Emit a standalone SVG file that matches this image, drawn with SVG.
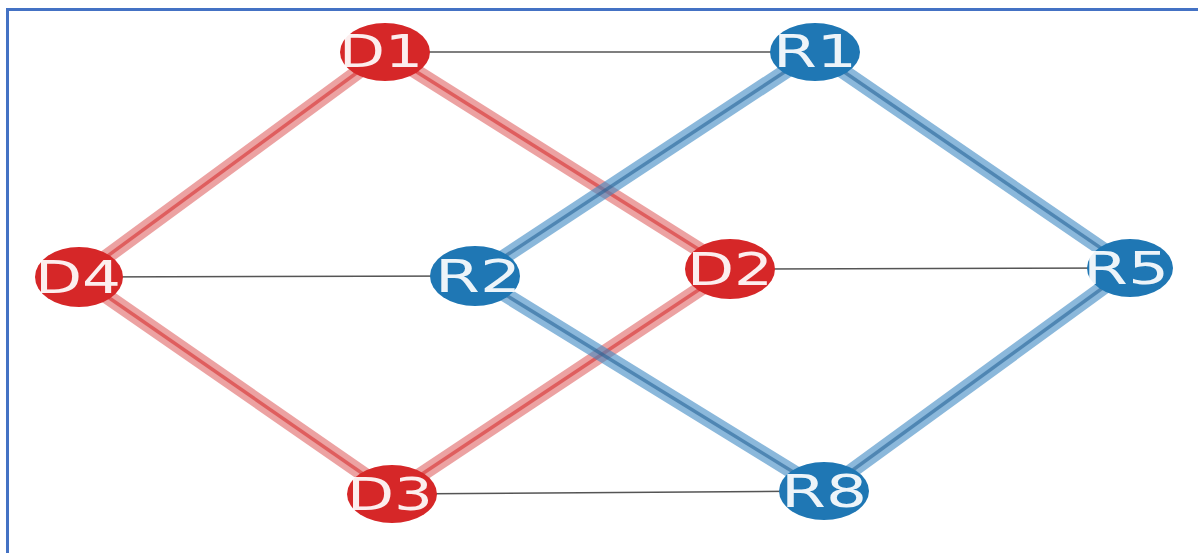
<svg xmlns="http://www.w3.org/2000/svg" width="1198" height="553" viewBox="0 0 1198 553">
<style>
.thin{stroke:#555;stroke-width:1.5;fill:none}
.ro{stroke:#e06666;stroke-width:15;opacity:0.6;stroke-linecap:round}
.ri{stroke:#d62728;stroke-width:3.5;opacity:0.55}
.bo{stroke:#3f8ac4;stroke-width:15;opacity:0.6;stroke-linecap:round}
.bi{stroke:#1f5f94;stroke-width:3.5;opacity:0.55}
.rn{fill:#d62728}
.bn{fill:#1f77b4}
.lb{font-family:"DejaVu Sans",sans-serif;font-size:45px;fill:#fff;fill-opacity:0.92;text-anchor:middle}
</style>
<rect x="0" y="0" width="1198" height="553" fill="#fff"/>
<path d="M7.5,553 V9.5 H1198" fill="none" stroke="#4472c4" stroke-width="3"/>
<g id="connectors">
<line class="thin" x1="385" y1="52" x2="815" y2="52"/>
<line class="thin" x1="79" y1="277" x2="475" y2="276"/>
<line class="thin" x1="730" y1="269" x2="1130" y2="268"/>
<line class="thin" x1="392" y1="494" x2="824" y2="491"/>
<line class="ro" x1="385" y1="52" x2="79" y2="277"/><line class="ri" x1="385" y1="52" x2="79" y2="277"/>
<line class="ro" x1="385" y1="52" x2="730" y2="269"/><line class="ri" x1="385" y1="52" x2="730" y2="269"/>
<line class="ro" x1="79" y1="277" x2="392" y2="494"/><line class="ri" x1="79" y1="277" x2="392" y2="494"/>
<line class="ro" x1="392" y1="494" x2="730" y2="269"/><line class="ri" x1="392" y1="494" x2="730" y2="269"/>
<line class="bo" x1="815" y1="52" x2="475" y2="276"/><line class="bi" x1="815" y1="52" x2="475" y2="276"/>
<line class="bo" x1="815" y1="52" x2="1130" y2="268"/><line class="bi" x1="815" y1="52" x2="1130" y2="268"/>
<line class="bo" x1="475" y1="276" x2="824" y2="491"/><line class="bi" x1="475" y1="276" x2="824" y2="491"/>
<line class="bo" x1="1130" y1="268" x2="824" y2="491"/><line class="bi" x1="1130" y1="268" x2="824" y2="491"/>
</g>
<g id="D1"><ellipse class="rn" cx="385" cy="52" rx="45" ry="29"/><text class="lb" x="381" y="67" textLength="84" lengthAdjust="spacingAndGlyphs">D1</text></g>
<g id="R1"><ellipse class="bn" cx="815" cy="52" rx="45" ry="29"/><text class="lb" x="815" y="67" textLength="84" lengthAdjust="spacingAndGlyphs">R1</text></g>
<g id="D4"><ellipse class="rn" cx="79" cy="277" rx="44" ry="30"/><text class="lb" x="78" y="293" textLength="86" lengthAdjust="spacingAndGlyphs">D4</text></g>
<g id="R2"><ellipse class="bn" cx="475" cy="276" rx="45" ry="30"/><text class="lb" x="478" y="292" textLength="86" lengthAdjust="spacingAndGlyphs">R2</text></g>
<g id="D2"><ellipse class="rn" cx="730" cy="269" rx="45" ry="30"/><text class="lb" x="730" y="285" textLength="86" lengthAdjust="spacingAndGlyphs">D2</text></g>
<g id="R5"><ellipse class="bn" cx="1130" cy="268" rx="43" ry="29"/><text class="lb" x="1126" y="284" textLength="86" lengthAdjust="spacingAndGlyphs">R5</text></g>
<g id="D3"><ellipse class="rn" cx="392" cy="494" rx="45" ry="29"/><text class="lb" x="390" y="510" textLength="86" lengthAdjust="spacingAndGlyphs">D3</text></g>
<g id="R8"><ellipse class="bn" cx="824" cy="491" rx="45" ry="29"/><text class="lb" x="824" y="507" textLength="86" lengthAdjust="spacingAndGlyphs">R8</text></g>
</svg>
